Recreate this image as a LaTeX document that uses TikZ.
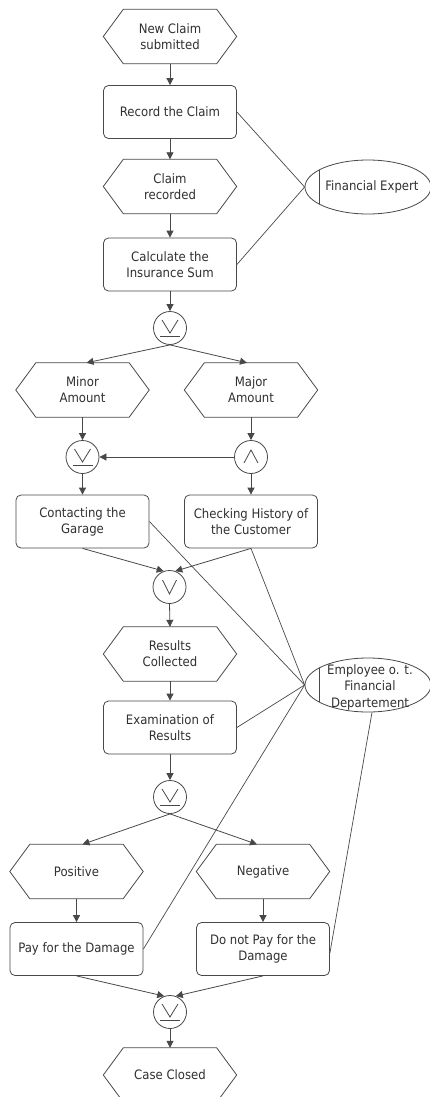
\documentclass[tikz,border=0pt]{standalone}
\usepackage{fontspec}
\setmainfont{DejaVu Sans Condensed}
\usetikzlibrary{shapes.geometric,arrows.meta,calc}

\definecolor{ln}{HTML}{484848}
\definecolor{tx}{HTML}{303030}

\tikzset{
  every node/.style={text=tx},
  func/.style={draw=ln, line width=0.8pt, rectangle, rounded corners=5pt,
    minimum width=133pt, minimum height=53pt, inner sep=0pt, align=center},
  event/.style={rectangle, minimum width=133pt, minimum height=54pt,
    inner sep=0pt, align=center},
  gate/.style={draw=ln, line width=0.8pt, circle, minimum size=33pt, inner sep=0pt},
  role/.style={draw=ln, line width=0.8pt, ellipse, minimum width=126pt,
    minimum height=54pt, inner sep=0pt},
  flow/.style={draw=ln, line width=0.8pt, -{Triangle[length=7pt,width=7pt]}},
  assoc/.style={draw=ln, line width=0.7pt},
  sym/.style={draw=ln, line width=0.8pt},
  xorsym/.pic={\path[sym] (-8,-8) -- (0,5) -- (8,-8); \path[sym] (-10,8) -- (10,8);},
  orsym/.pic={\path[sym] (-7,-7) -- (0,7) -- (7,-7);},
  andsym/.pic={\path[sym] (-7,6) -- (0,-7) -- (7,6);},
}

\begin{document}
\begin{tikzpicture}[x=1pt, y=-1pt, font=\fontsize{13}{16}\selectfont]
\useasboundingbox (0,0) rectangle (430,1097);
\clip (0,0) rectangle (430,1097);

% events (hexagon outlines drawn below)
\node[event] (ev1) at (170,36.5) {New Claim\\submitted};
\node[event] (ev2) at (170,186.5) {Claim\\recorded};
\node[event] (ev3) at (82.5,390) {Minor\\Amount};
\node[event] (ev4) at (251,390) {Major\\Amount};
\node[event] (ev5) at (170,654) {Results\\Collected};
\node[event] (ev6) at (76.5,871.5) {Positive};
\node[event] (ev7) at (263,871.5) {Negative};
\node[event] (ev8) at (170,1075) {Case Closed};

\foreach \n in {ev1,ev2,ev3,ev4,ev5,ev6,ev7,ev8}{
  \draw[ln, line width=0.8pt] (\n.west) -- ($(\n.north west)+(20,0)$)
    -- ($(\n.north east)+(-20,0)$) -- (\n.east)
    -- ($(\n.south east)+(-20,0)$) -- ($(\n.south west)+(20,0)$) -- cycle;
}

% functions
\node[func] (f1) at (170,112) {Record the Claim};
\node[func] (f2) at (170,264.5) {Calculate the\\Insurance Sum};
\node[func] (f3) at (82.5,521.5) {Contacting the\\Garage};
\node[func] (f4) at (251,521.5) {Checking History of\\the Customer};
\node[func] (f5) at (170,727.5) {Examination of\\Results};
\node[func] (f6) at (76.5,949) {Pay for the Damage};
\node[func] (f7) at (263,949) {Do not Pay for the\\Damage};

% connectors (logical operators)
\node[gate] (x1) at (170,328) {};
\node[gate] (x2) at (82.5,457) {};
\node[gate] (a1) at (251,457) {};
\node[gate] (o1) at (169.5,587) {};
\node[gate] (x3) at (170,797) {};
\node[gate] (x4) at (170,1012) {};
\pic at (x1) {xorsym};
\pic at (x2) {xorsym};
\pic at (a1) {andsym};
\pic at (o1) {orsym};
\pic at (x3) {xorsym};
\pic at (x4) {xorsym};

% organisational units
\node[role] (exp) at (368,187) {};
\node (expt) at (372,187) {Financial Expert};
\draw[ln, line width=0.8pt] ($(exp.center)+(-49,-17)$) -- ($(exp.center)+(-49,17)$);
\node[role] (emp) at (368,685) {};
\node[align=center, font=\fontsize{13}{16.5}\selectfont] (empt) at (370,687) {Employee o. t.\\Financial\\Departement};
\draw[ln, line width=0.8pt] ($(emp.center)+(-49,-17)$) -- ($(emp.center)+(-49,17)$);

% control flow
\path[flow] (ev1.south) -- (f1.north);
\path[flow] (f1.south) -- (ev2.north);
\path[flow] (ev2.south) -- (f2.north);
\path[flow] (f2.south) -- (x1.north);
\path[flow] (x1.south) -- ([xshift=4pt]ev3.north);
\path[flow] (x1.south) -- ([xshift=-4pt]ev4.north);
\path[flow] (ev3.south) -- (x2.north);
\path[flow] (ev4.south) -- (a1.north);
\path[flow] (a1.west) -- (x2.east);
\path[flow] (x2.south) -- (f3.north);
\path[flow] (a1.south) -- (f4.north);
\path[flow] (f3.south) -- (o1.110);
\path[flow] (f4.south) -- (o1.70);
\path[flow] (o1.south) -- (ev5.north);
\path[flow] (ev5.south) -- (f5.north);
\path[flow] (f5.south) -- (x3.north);
\path[flow] (x3.south) -- ([xshift=6pt]ev6.north);
\path[flow] (x3.south) -- ([xshift=-6pt]ev7.north);
\path[flow] (ev6.south) -- (f6.north);
\path[flow] (ev7.south) -- (f7.north);
\path[flow] (f6.south) -- (x4.110);
\path[flow] (f7.south) -- (x4.70);
\path[flow] (x4.south) -- (ev8.north);

% role assignments
\path[assoc] (f1.east) -- (exp.west);
\path[assoc] (f2.east) -- (exp.west);
\path[assoc] (f3.east) -- (emp.west);
\path[assoc] (f4.south) -- (emp.west);
\path[assoc] (f5.east) -- (emp.west);
\path[assoc] (f6.east) -- (emp.west);
\path[assoc] ([yshift=-4pt]f7.east) -- ([xshift=4pt]emp.south);
\end{tikzpicture}
\end{document}
